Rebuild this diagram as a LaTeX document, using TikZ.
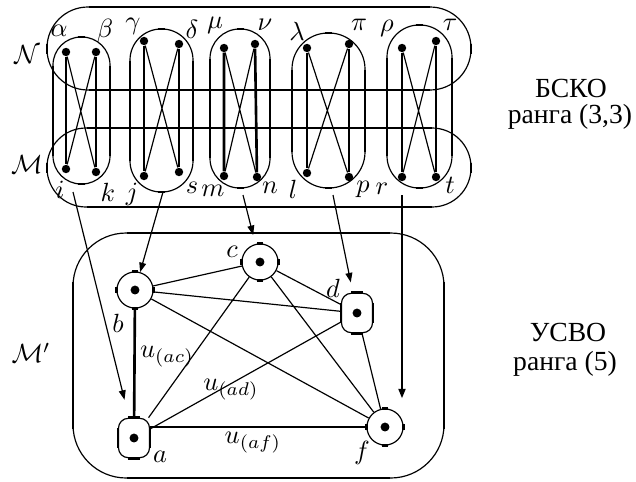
\documentclass[tikz,border=0pt]{standalone}
\usepackage{fontspec}
\usepackage{amsmath}
\usetikzlibrary{arrows.meta, calc}
\newfontfamily\cyrfont{Liberation Serif}

\begin{document}
\begin{tikzpicture}[x=0.38pt, y=-0.38pt,
    thinline/.style={line width=0.45pt},
    thickline/.style={line width=1pt},
    dot/.style={circle, fill, inner sep=0pt, minimum size=3.2pt},
    vcirc/.style={circle, draw, thinline, minimum size=13.7pt, inner sep=0pt,
                  path picture={\fill (path picture bounding box.center) circle[radius=1.7pt];}},
    vbox/.style={rectangle, draw, thinline, rounded corners=3.8pt, minimum width=11.8pt,
                 minimum height=15pt, inner sep=0pt,
                 path picture={\fill (path picture bounding box.center) circle[radius=1.7pt];}},
    arr/.style={-{Triangle[length=3.6pt, width=2.6pt]}, thinline},
    lbl/.style={inner sep=0pt},
    rus/.style={inner sep=0pt, font=\cyrfont\fontsize{10.5}{12}\selectfont},
]
\useasboundingbox (0,0) rectangle (636,481);

% big boxes N, M, M'
\foreach \xa/\ya/\xb/\yb/\rr in {47/7/471/90/41.5, 47/128/471/207/39.5, 73/233/444/478/54} {
  \draw[thinline, rounded corners=\rr*0.375pt] (\xa,\ya) rectangle (\xb,\yb);
  \draw[thickline] (\xa+\rr,\ya) -- (\xb-\rr,\ya) (\xa+\rr,\yb) -- (\xb-\rr,\yb);
  \draw[thickline] (\xa,\ya+\rr-5) -- (\xa,\yb-\rr+5) (\xb,\ya+\rr-5) -- (\xb,\yb-\rr+5);
}

% ovals
\foreach \xa/\xb/\ya/\yb in {53/110/37/184, 130/193/29/192, 210/270/29/188, 292/365/33/188, 387/452/25/188} {
  \pgfmathsetmacro\rr{(\xb-\xa)/2}
  \draw[thinline, rounded corners=\rr*0.375pt] (\xa,\ya) rectangle (\xb,\yb);
  \draw[thickline] (\xa,\ya+\rr) -- (\xa,\yb-\rr) (\xb,\ya+\rr) -- (\xb,\yb-\rr);
  \draw[thickline] ({(\xa+\xb)/2-3.5},\ya) -- ++(7,0) ({(\xa+\xb)/2-3.5},\yb) -- ++(7,0);
}

% dots
\foreach \nm/\x/\y in {alpha/66/52, beta/96/52, i/66/169, k/96/172,
                       gamma/144/41, delta/179/44, j/144/176, s/179/172,
                       mu/224/48, nu/255/44, m/224/176, n/257/177,
                       lambda/307/48, pi/349/44, l/307/173, p/349/177,
                       rho/402/48, tau/436/41, r/402/177, t/436/177}
  \node[dot] (\nm) at (\x,\y) {};

\foreach \u/\v/\w/\z in {alpha/beta/i/k, gamma/delta/j/s, mu/nu/m/n, lambda/pi/l/p, rho/tau/r/t} {
  \draw[thickline] (\u) -- (\w) (\v) -- (\z);
  \draw[thinline] (\u) -- (\z) (\v) -- (\w);
}

% letters
\foreach \nm/\x/\y/\txt in {alpha/59/31/\alpha, beta/105/31/\beta, gamma/133/26/\gamma,
                            delta/192/29/\delta, mu/215/25/\mu, nu/265/25/\nu,
                            lambda/297/31/\lambda, pi/359/25/\pi, rho/387/28/\rho,
                            tau/450/25/\tau, i/60/190/i, k/108/192/k, j/132/194/j,
                            s/192/188/s, m/213/191/m, n/270/188/n, l/293/189/l,
                            p/363/189/p, r/382/189/r, t/450/185/t}
  \node[lbl] (l\nm) at (\x,\y) {$\txt$};

\node[lbl] (lN) at (27,55) {$\mathcal{N}$};
\node[lbl] (lM) at (27,165) {$\mathcal{M}$};
\node[lbl] (lMp) at (31,353) {$\mathcal{M}'$};

% right texts
\node[rus] (bsko) at (571,88) {БСКО};
\node[rus] (rang1) at (570,117) {ранга (3,3)};
\node[rus] (usvo) at (568,332) {УСВО};
\node[rus] (rang2) at (565,364) {ранга (5)};

% lower graph
\node[vcirc] (b) at (135,290) {};
\node[vcirc] (c) at (260,262) {};
\node[vcirc] (f) at (385,427) {};
\node[vbox] (a) at (134,438) {};
\node[vbox] (d) at (357,313) {};

\foreach \v in {b,c,f} {
  \draw[thickline] ([xshift=-1pt]\v.north) -- ([xshift=1pt]\v.north)
                   ([xshift=-1pt]\v.south) -- ([xshift=1pt]\v.south);
  \draw[thickline] ([yshift=-1pt]\v.east) -- ([yshift=1pt]\v.east)
                   ([yshift=-1pt]\v.west) -- ([yshift=1pt]\v.west);
}
\foreach \v in {a,d} {
  \draw[thickline] ([yshift=-3.8pt]\v.north west) -- ([yshift=3.8pt]\v.south west)
                   ([yshift=-3.8pt]\v.north east) -- ([yshift=3.8pt]\v.south east);
  \draw[thickline] ([xshift=3.8pt]\v.north west) -- ([xshift=-3.8pt]\v.north east)
                   ([xshift=3.8pt]\v.south west) -- ([xshift=-3.8pt]\v.south east);
}

\draw[thickline] (b) -- (a);
\draw[thickline] (a.east |- f) -- (f);
\draw[thinline] (b) -- (c) (b) -- (d) (b) -- (f) (c) -- (d)
                (c) -- (a) (c) -- (f) (a) -- (d) (d) -- (f);

\node[lbl] (lb) at (118,323) {$b$};
\node[lbl] (lc) at (232,252) {$c$};
\node[lbl] (ld) at (333,288) {$d$};
\node[lbl] (la) at (160,457) {$a$};
\node[lbl] (lf) at (362,453) {$f$};
\node[lbl] (uac) at (167,357) {$u_{(ac)}$};
\node[lbl] (uad) at (231,390) {$u_{(ad)}$};
\node[lbl] (uaf) at (253,443) {$u_{(af)}$};

% arrows from top to bottom
\coordinate (s1) at (73,192);
\coordinate (s2) at (163,192);
\coordinate (s3) at (243,195);
\coordinate (s4) at (333,195);
\coordinate (s5) at (402,195);
\draw[arr, shorten >=7pt] (s1) -- (a);
\draw[arr] (s2) -- (b);
\draw[arr, shorten >=3.5pt] (s3) -- (c);
\draw[arr, shorten >=4pt] (s4) -- (d);
\draw[arr, line width=0.8pt, shorten >=3.8pt] (s5) -- (s5 |- f.north);

\end{tikzpicture}
\end{document}
